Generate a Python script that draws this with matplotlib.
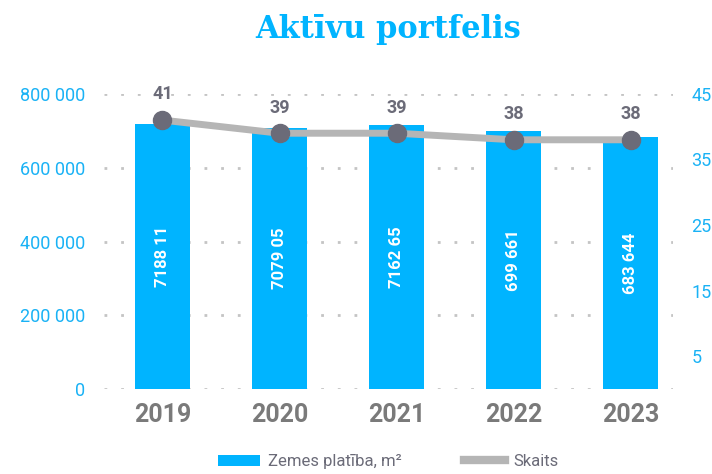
import matplotlib.pyplot as plt
from matplotlib.patches import Patch
from matplotlib.lines import Line2D

years = ["2019", "2020", "2021", "2022", "2023"]
area = [718811, 707905, 716265, 699661, 683644]
area_labels = ["7188 11", "7079 05", "7162 65", "699 661", "683 644"]
count = [41, 39, 39, 38, 38]
left_ticks = [0, 200000, 400000, 600000, 800000]
left_tick_labels = ["0", "200 000", "400 000", "600 000", "800 000"]
right_ticks = [5, 15, 25, 35, 45]

blue = "#00b4ff"
tick_blue = "#1ab2f5"
gray_line = "#b5b5b5"
dark_gray = "#6b6b78"
year_gray = "#7a7a7a"

plt.rcParams["font.family"] = ["Roboto", "DejaVu Sans"]

fig = plt.figure(figsize=(7.12, 4.74), dpi=100)
ax = fig.add_axes([0.146, 0.179, 0.799, 0.623])
ax2 = ax.twinx()

x = list(range(len(years)))
ax.bar(x, area, width=0.47, color=blue, zorder=2)
for xi, v, lab in zip(x, area, area_labels):
    ax.text(xi, v / 2, lab, rotation=90, ha="center", va="center",
            color="white", fontsize=12, fontweight="bold", zorder=3)

ax.set_ylim(0, 800000)
ax.set_xlim(-0.5, 4.36)
ax.set_yticks(left_ticks)
ax.set_yticklabels(left_tick_labels)
ax.set_xticks(x)
ax.set_xticklabels(years, fontsize=18, fontweight="bold", color=year_gray)
ax.tick_params(axis="y", colors=tick_blue, labelsize=13, length=0, pad=13.5)
ax.tick_params(axis="x", length=0, pad=10)
ax.grid(axis="y", color="#c4c4c4", linestyle=(0, (1, 5)), linewidth=2, zorder=0)
ax.set_axisbelow(True)
for s in ax.spines.values():
    s.set_visible(False)

ax2.plot(x, count, color=gray_line, linewidth=5, zorder=3,
         marker="o", markersize=13, markerfacecolor=dark_gray, markeredgecolor=dark_gray)
for xi, c in zip(x, count):
    ax2.annotate(str(c), (xi, c), xytext=(0, 12), textcoords="offset points",
                 ha="center", va="bottom", color=dark_gray, fontsize=13, fontweight="bold")
ax2.set_ylim(0, 45)
ax2.set_yticks(right_ticks)
ax2.tick_params(axis="y", colors=tick_blue, labelsize=13, length=0, pad=13.5)
for s in ax2.spines.values():
    s.set_visible(False)

fig.text(0.545, 0.938, "Aktīvu portfelis", ha="center", va="center",
         color=blue, fontsize=22, fontweight="bold", family=["DejaVu Serif"])

handles = [Patch(facecolor=blue), Line2D([0], [0], color=gray_line, linewidth=6)]
fig.legend(handles, ["Zemes platība, m²", "Skaits"], loc="center",
           bbox_to_anchor=(0.546, 0.026), ncol=2, frameon=False,
           fontsize=12, labelcolor=dark_gray, handlelength=2.5, columnspacing=3.7,
           handletextpad=0.5)

fig.savefig("out.png", dpi=100)
